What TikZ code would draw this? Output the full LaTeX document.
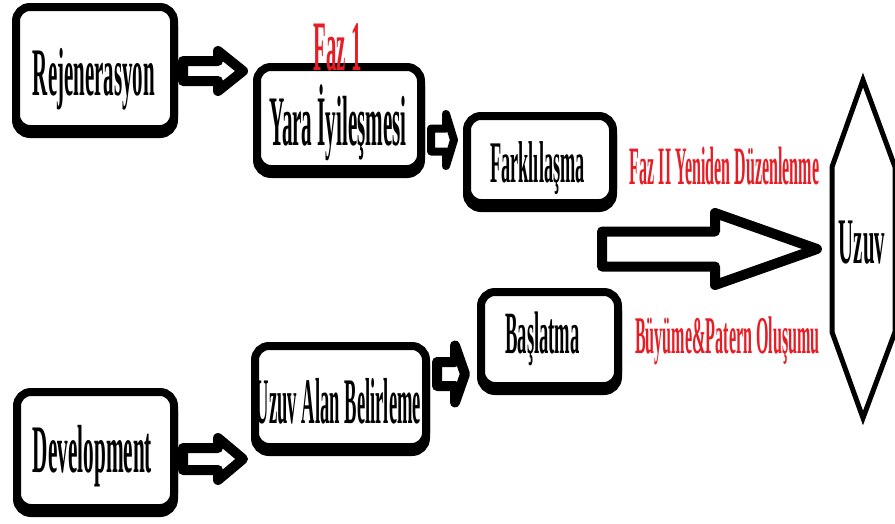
\documentclass[tikz,border=0pt]{standalone}
\usepackage{fontspec}
\usepackage{graphicx}
\newfontfamily\tnrfont{Liberation Serif}
\definecolor{fazred}{RGB}{232,28,36}
\tikzset{
  rbx/.style={draw, line width=8pt, rounded corners=14pt, fill=white, inner sep=0pt},
  lbl/.style={inner sep=0pt, anchor=base, font=\tnrfont\bfseries},
  redlbl/.style={lbl, text=fazred},
  barrow/.style={draw, line join=round, fill=white}
}
\newcommand\rbox[5]{%
  \draw[line width=8pt, rounded corners=14pt] (#2+4,#3+9) rectangle (#4-4,#5-4);
  \node[rbx, minimum width={#4-#2-8}, minimum height={#5-#3-13}] (#1) at ({(#2+#4)/2},{(#3+#5-5)/2}) {};}
\newcommand\blockarrow[7]{%
  \pgfmathsetmacro\arrh{#7/2}%
  \draw[barrow, line width=#7pt]
    ({#1+\arrh},{#4-#5+\arrh}) -- ({#2+\arrh},{#4-#5+\arrh}) -- ({#2+\arrh},{#4-#6+\arrh})
    -- ({#3-\arrh},{#4}) -- ({#2+\arrh},{#4+#6-\arrh}) -- ({#2+\arrh},{#4+#5-\arrh})
    -- ({#1+\arrh},{#4+#5-\arrh}) -- cycle;}
\newcommand\lbltext[3]{\fontsize{#1}{#1}\selectfont\scalebox{#2}[1]{#3}}
\begin{document}
\begin{tikzpicture}[x=1pt,y=-1pt]
\useasboundingbox (0,0) rectangle (895,523);
\begin{scope}
\clip (0,0) rectangle (895,523);
% boxes
\rbox{rej}{12}{3}{178}{138}
\rbox{yara}{253}{63}{425}{178}
\rbox{fark}{463}{112}{617}{212}
\rbox{bas}{477}{288}{622}{395}
\rbox{uab}{251}{342}{430}{456}
\rbox{dev}{13}{388}{178}{517}
% hexagon
\coordinate (h1) at (863,80);
\coordinate (h2) at (895,167);
\coordinate (h3) at (895,332);
\coordinate (h4) at (863,418);
\coordinate (h5) at (832,332);
\coordinate (h6) at (832,167);
\draw[line width=5pt, line join=miter] (h1) -- (h2) -- (h3) -- (h4) -- (h5) -- (h6) -- cycle;
% block arrows
\blockarrow{178}{213}{248}{71}{15}{25}{10}
\blockarrow{427}{442}{458}{140}{15.5}{30}{8}
\blockarrow{432}{450}{470}{374}{17}{33.5}{10}
\blockarrow{178}{213}{248}{459}{16}{26}{10}
\blockarrow{597}{710}{822}{249}{22.5}{41}{10}
% texts
\node[lbl] (trej) at (94,95) {\lbltext{68}{0.308}{Rejenerasyon}};
\node[lbl] (tyara) at (338,145) {\lbltext{71}{0.297}{Yara İyileşmesi}};
\node[lbl] (tfark) at (537.5,182) {\lbltext{59}{0.311}{Farklılaşma}};
\node[lbl] (tbas) at (542.5,353) {\lbltext{60}{0.31}{Başlatma}};
\node[lbl] (tuab) at (338.5,423) {\lbltext{65}{0.286}{Uzuv Alan Belirleme}};
\node[lbl] (tdev) at (92.5,472) {\lbltext{68}{0.312}{Development}};
\node[lbl] (tuzuv) at (862,263) {\lbltext{65}{0.32}{Uzuv}};
\node[redlbl] (faz2) at (724.5,184) {\lbltext{54}{0.297}{Faz II Yeniden Düzenlenme}};
\node[redlbl] (buyume) at (727.5,353) {\lbltext{53}{0.304}{Büyüme\&Patern Oluşumu}};
\node[redlbl] (faz1) at (337.5,70) {\lbltext{71}{0.293}{Faz 1}};
\end{scope}
\end{tikzpicture}
\end{document}
